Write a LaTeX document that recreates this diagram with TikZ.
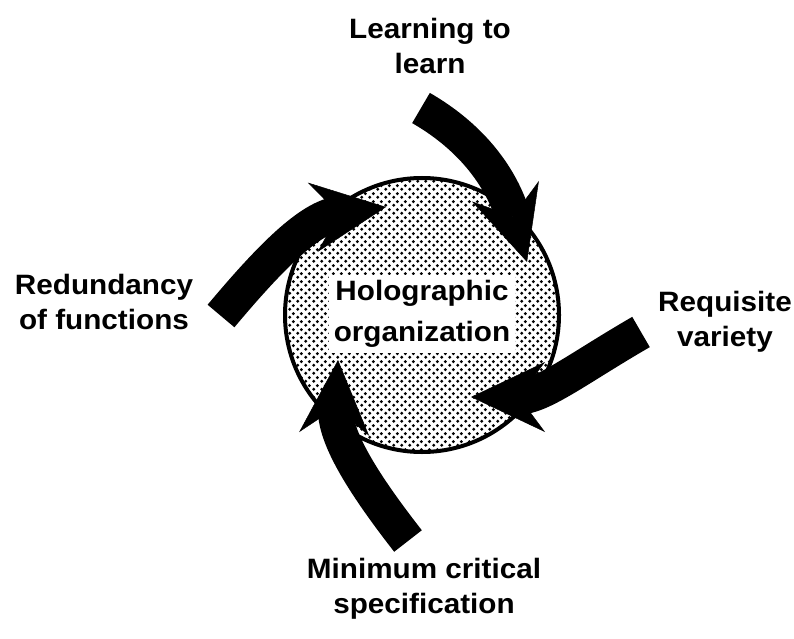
\documentclass[tikz,border=0pt]{standalone}
\usepackage{fontspec}
\setmainfont{Liberation Sans}[FakeStretch=1.06]
\usetikzlibrary{arrows.meta,patterns.meta}

% dotted screen for the centre disc
\tikzdeclarepattern{
  name=halftone,
  type=uncolored,
  bounding box={(0pt,0pt) and (8pt,8pt)},
  tile size={(8pt,8pt)},
  code={
    \fill (2pt,2pt) circle (1.8pt);
    \fill (6pt,6pt) circle (1.8pt);
  }
}

\begin{document}
\begin{tikzpicture}[x=1pt,y=1pt,
    lbl/.style={font=\fontsize{28}{35}\selectfont\bfseries, align=center},
    flow/.style={line width=35pt,
      -{Stealth[length=74pt,width=70pt,inset=26pt,line width=0.5pt]}}]
  \useasboundingbox (0,0) rectangle (794,638);

  % disc
  \node[circle, draw, line width=4pt, minimum size=274pt, pattern=halftone] (ring) at (422,323) {};

  % outer labels
  \node[lbl] (learn) at (430,592) {Learning to\\learn};
  \node[lbl] (redund) at (104,336) {Redundancy\\of functions};
  \node[lbl] (requis) at (725,316) {Requisite\\variety};
  \node[lbl] (minim) at (424,49) {Minimum critical\\specification};

  % arrow ends
  \coordinate (learnTail) at (421,530);
  \coordinate (learnTip) at (527,376);
  \coordinate (requisTail) at (641,306);
  \coordinate (requisTip) at (471,241);
  \coordinate (minimTail) at (408,97);
  \coordinate (minimTip) at (338,278);
  \coordinate (redundTail) at (221,322);
  \coordinate (redundTip) at (386,431);

  % arrows into the disc
  \draw[flow] (learnTail) to[out=-30, in=107] (learnTip);
  \draw[flow] (requisTail) to[out=210, in=0] (requisTip);
  \draw[flow] (minimTail) to[out=128, in=-93] (minimTip);
  \draw[flow] (redundTail) to[out=50, in=188] (redundTip);

  % centre label
  \node[lbl, font=\fontsize{28}{41}\selectfont\bfseries, fill=white, inner sep=5pt] (holo) at (422,324) {Holographic\\organization};
\end{tikzpicture}
\end{document}
